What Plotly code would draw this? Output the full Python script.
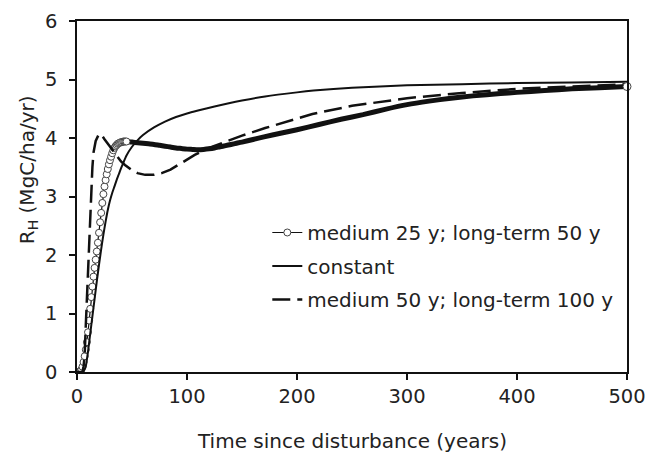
import plotly.graph_objects as go

# ---- data ----
# "medium 25 y; long-term 50 y": early part, circles individually visible
x_m25_early = list(range(0, 46))
y_m25_early = [0.00, 0.00, 0.00, 0.01, 0.04, 0.09, 0.17, 0.27, 0.38, 0.51,
               0.68, 0.88, 1.08, 1.28, 1.46, 1.63, 1.78, 1.92, 2.06, 2.21,
               2.38, 2.56, 2.72, 2.89, 3.04, 3.17, 3.28, 3.38, 3.47, 3.55,
               3.62, 3.68, 3.74, 3.79, 3.83, 3.86, 3.88, 3.90, 3.91, 3.92,
               3.93, 3.93, 3.94, 3.94, 3.94, 3.94]
# later part, where the dense circles merge into a thick band
x_m25_late = [42, 45, 50, 55, 60, 65, 70, 75, 80, 85, 90, 95, 100, 105, 110,
              115, 120, 125, 130, 135, 140, 145, 150, 160, 170, 185, 200, 220,
              240, 260, 280, 300, 320, 340, 360, 385, 400, 425, 450, 475, 500]
y_m25_late = [3.94, 3.94, 3.93, 3.92, 3.91, 3.90, 3.89, 3.875, 3.86, 3.845,
              3.83, 3.82, 3.81, 3.805, 3.80, 3.805, 3.815, 3.83, 3.85, 3.87,
              3.89, 3.91, 3.93, 3.975, 4.02, 4.08, 4.14, 4.23, 4.32, 4.40,
              4.49, 4.57, 4.63, 4.68, 4.72, 4.76, 4.78, 4.81, 4.84, 4.86, 4.88]

# "constant"
x_const = [0, 5, 7, 8, 10, 12, 14, 16, 18, 20, 22, 24, 26, 28, 30, 32, 34, 36,
           38, 40, 42, 45, 50, 55, 60, 70, 80, 90, 100, 110, 125, 137, 150,
           171, 200, 215, 250, 300, 350, 400, 450, 500]
y_const = [0.00, 0.00, 0.05, 0.10, 0.35, 0.65, 0.95, 1.25, 1.55, 1.83, 2.10,
           2.35, 2.57, 2.77, 2.93, 3.06, 3.17, 3.28, 3.38, 3.48, 3.57, 3.70,
           3.85, 3.96, 4.05, 4.18, 4.28, 4.36, 4.42, 4.47, 4.54, 4.59, 4.64,
           4.71, 4.78, 4.81, 4.86, 4.90, 4.92, 4.94, 4.95, 4.96]

# "medium 50 y; long-term 100 y"
x_m50 = [0, 5, 6, 7, 8, 9, 10, 11, 12, 13, 14, 15, 17, 20, 22, 25, 28, 31.5,
         36, 40, 43.6, 50, 55, 62, 70, 77, 85, 95, 107, 120, 137, 150, 171,
         200, 214, 250, 300, 350, 385, 400, 450, 500]
y_m50 = [0.00, 0.00, 0.10, 0.30, 0.80, 1.30, 1.75, 2.20, 2.65, 3.10, 3.50,
         3.75, 3.95, 4.07, 4.06, 3.98, 3.90, 3.82, 3.70, 3.60, 3.54, 3.45,
         3.40, 3.37, 3.37, 3.40, 3.46, 3.57, 3.71, 3.83, 3.95, 4.04, 4.17,
         4.34, 4.41, 4.55, 4.68, 4.77, 4.82, 4.84, 4.88, 4.92]

x_ticks = [0, 100, 200, 300, 400, 500]
y_ticks = [0, 1, 2, 3, 4, 5, 6]

# ---- figure ----
FONT = "DejaVu Sans, Liberation Sans, Arial"
TXT = "#222222"
INK = "#111111"

fig = go.Figure()

# split the dashed series at its peak: long dashes on the steep rise
peak = y_m50.index(max(y_m50))

fig.add_trace(go.Scatter(
    x=x_m25_late, y=y_m25_late, mode="lines",
    line=dict(color=INK, width=5, shape="spline", smoothing=0.6),
    showlegend=False, hoverinfo="skip"))
fig.add_trace(go.Scatter(
    x=x_m25_early, y=y_m25_early, mode="lines+markers",
    name="medium 25 y; long-term 50 y", legendgroup="a",
    line=dict(color=INK, width=1.2),
    marker=dict(symbol="circle", size=7, color="white",
                line=dict(color="#444444", width=1))))
fig.add_trace(go.Scatter(
    x=x_const, y=y_const, mode="lines", name="constant", legendgroup="b",
    line=dict(color=INK, width=2, shape="spline", smoothing=0.6)))
fig.add_trace(go.Scatter(
    x=x_m50[:peak + 1], y=y_m50[:peak + 1], mode="lines",
    name="medium 50 y; long-term 100 y", legendgroup="c",
    line=dict(color=INK, width=2.5, dash="18px,7px")))
fig.add_trace(go.Scatter(
    x=x_m50[peak:], y=y_m50[peak:], mode="lines", showlegend=False,
    legendgroup="c",
    line=dict(color=INK, width=2.5, dash="8px,4px", shape="spline",
              smoothing=0.6)))
# end-point circle of the first series (drawn over the frame)
fig.add_trace(go.Scatter(
    x=x_m25_late[-1:], y=y_m25_late[-1:], mode="markers", showlegend=False,
    cliponaxis=False,
    marker=dict(symbol="circle", size=8, color="white",
                line=dict(color="#444444", width=1))))

axis_common = dict(
    showline=True, linecolor=INK, linewidth=1.5, mirror=True,
    ticks="outside", ticklen=6, tickwidth=1.5, tickcolor=INK,
    showgrid=False, zeroline=False, ticklabeloverflow="allow",
    automargin=False,
    tickfont=dict(family=FONT, size=19.5, color=TXT),
)

fig.update_layout(
    width=645, height=453,
    margin=dict(l=77, r=18, t=21, b=81),
    paper_bgcolor="white", plot_bgcolor="white",
    xaxis=dict(range=[0, 500], tickvals=x_ticks, **axis_common),
    yaxis=dict(range=[0, 6], tickvals=y_ticks, ticklabelstandoff=8,
               **axis_common),
    showlegend=True,
    legend=dict(x=0.346, y=0.453, xanchor="left", yanchor="top",
                traceorder="grouped", tracegroupgap=4.5,
                bgcolor="rgba(0,0,0,0)",
                font=dict(family=FONT, size=20, color=TXT)),
    annotations=[
        dict(text="Time since disturbance (years)", xref="paper", yref="paper",
             x=0.5, y=-0.197, xanchor="center", yanchor="middle",
             showarrow=False, font=dict(family=FONT, size=20, color=TXT)),
        dict(text="R<sub>H</sub> (MgC/ha/yr)", xref="paper", yref="paper",
             x=-0.089, y=0.575, xanchor="center", yanchor="middle",
             textangle=-90, showarrow=False,
             font=dict(family=FONT, size=20, color=TXT)),
    ],
)

fig.write_html("out.html")
